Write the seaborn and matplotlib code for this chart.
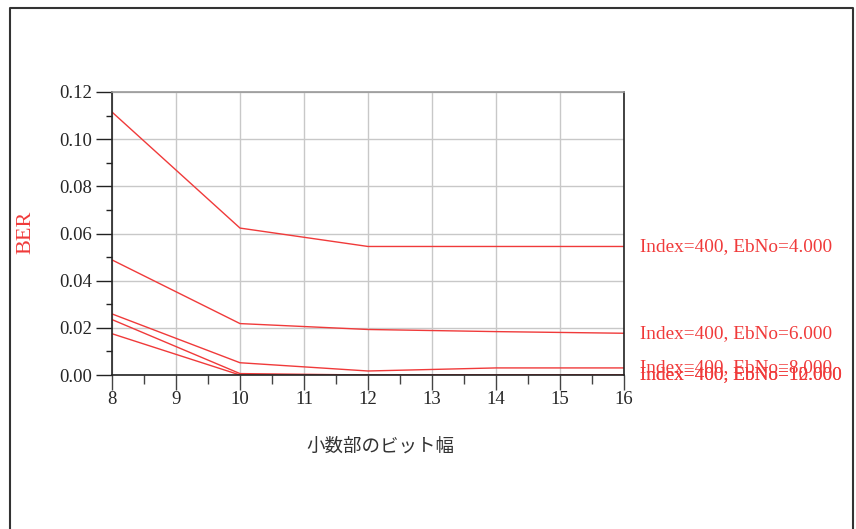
import matplotlib
matplotlib.use("Agg")
import matplotlib.pyplot as plt
from matplotlib.ticker import MultipleLocator
from matplotlib.lines import Line2D
import seaborn as sns
import pandas as pd

# Fractional bit width vs. bit error rate for several Eb/No settings
bit_widths = [8, 10, 12, 14, 16]
ebno_4 = [0.1115, 0.0623, 0.0545, 0.0545, 0.0545]
ebno_6 = [0.0488, 0.0218, 0.0193, 0.0184, 0.0177]
ebno_8 = [0.0259, 0.0052, 0.0017, 0.0030, 0.0030]
ebno_10 = [0.0235, 0.0006, 0.0, 0.0, 0.0]
ebno_12 = [0.0175, 0.0, 0.0, 0.0, 0.0]
series_labels = ["Index=400, EbNo=4.000", "Index=400, EbNo=6.000",
                 "Index=400, EbNo=8.000", "Index=400, EbNo=10.000",
                 "Index=400, EbNo=12.000"]
x_ticks = [8, 9, 10, 11, 12, 13, 14, 15, 16]
y_ticks = [0.00, 0.02, 0.04, 0.06, 0.08, 0.10, 0.12]

series = [ebno_4, ebno_6, ebno_8, ebno_10, ebno_12]
df = pd.DataFrame({
    "bits": bit_widths * len(series),
    "ber": [v for s in series for v in s],
    "trace": [lab for lab, s in zip(series_labels, series) for _ in s],
})

sns.set_style("white")
plt.rcParams["font.family"] = ["Liberation Serif", "DejaVu Serif"]

RED = "#f03a3a"
fig = plt.figure(figsize=(8.56, 5.29), dpi=100)
ax = fig.add_axes([112 / 856, 1 - 375 / 529, 512 / 856, 283 / 529])

sns.lineplot(data=df, x="bits", y="ber", hue="trace",
             palette=[RED] * len(series), legend=False, linewidth=1.0, ax=ax)

ax.set_xlim(8, 16)
ax.set_ylim(0, 0.12)
ax.set_xticks(x_ticks)
ax.set_xticklabels([str(t) for t in x_ticks])
ax.set_yticks(y_ticks)
ax.set_yticklabels([f"{t:.2f}" for t in y_ticks])
ax.xaxis.set_minor_locator(MultipleLocator(0.5))
ax.yaxis.set_minor_locator(MultipleLocator(0.01))
ax.grid(True, which="major", color="#c8c8c8", linewidth=1.0)
ax.set_axisbelow(True)
ax.tick_params(axis="y", which="major", direction="out", length=11.5,
               width=1.0, color="#222222", labelsize=13.5, pad=3, left=True)
ax.tick_params(axis="y", which="minor", direction="out", length=4.3,
               width=1.0, color="#222222", left=True)
ax.tick_params(axis="x", which="major", direction="out", length=10.8,
               width=1.0, color="#444444", labelsize=13.5, pad=1, bottom=True)
ax.tick_params(axis="x", which="minor", direction="out", length=6.5,
               width=1.0, color="#444444", bottom=True)
ax.set_xlabel("")
ax.set_ylabel("")
for side in ["left", "right", "bottom"]:
    ax.spines[side].set_color("#222222")
    ax.spines[side].set_linewidth(1.2)
ax.spines["top"].set_color("#999999")
ax.spines["top"].set_linewidth(1.2)

# trace labels at the right end of each curve
for lab, s in zip(series_labels, series):
    ax.text(16.25, s[-1], lab, color=RED, fontsize=13.9, va="center",
            ha="left", clip_on=False)

fig.text(26 / 856, 1 - 232 / 529, "BER", color=RED, fontsize=16,
         rotation=90, ha="center", va="center")
fig.text(380 / 856, 1 - 447 / 529, "小数部のビット幅", color="#333333",
         fontsize=13.3, ha="center", va="center",
         family=["Noto Sans CJK JP", "DejaVu Sans"])

# outer frame (left, top, right edges)
fx = [10 / 856, 10 / 856, 853 / 856, 853 / 856]
fy = [0.0, 1 - 8 / 529, 1 - 8 / 529, 0.0]
fig.add_artist(Line2D(fx, fy, transform=fig.transFigure, color="#333333",
                      linewidth=1.5))

fig.savefig("out.png", dpi=100)
